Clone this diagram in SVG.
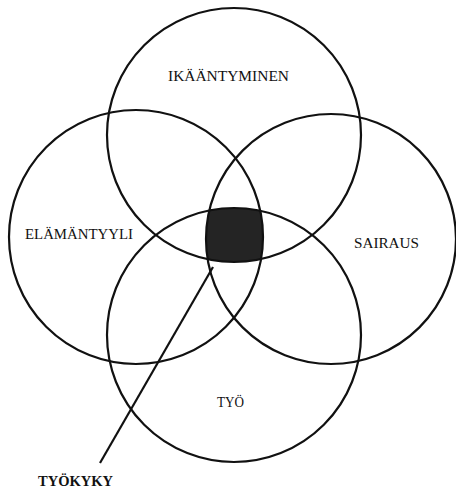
<svg xmlns="http://www.w3.org/2000/svg" width="456" height="488" viewBox="0 0 456 488">
<style>
.c{fill:none;stroke:#111;stroke-width:2.2}
.t{font-family:"Liberation Serif","DejaVu Serif",serif;font-size:15px;fill:#111}
.b{font-family:"Liberation Serif","DejaVu Serif",serif;font-size:15px;font-weight:bold;fill:#111}
.l{stroke:#111;stroke-width:2.2;fill:none}
</style>
<defs>
<clipPath id="cT"><circle cx="234" cy="135" r="127"/></clipPath>
<clipPath id="cL"><circle cx="136" cy="237" r="127"/></clipPath>
<clipPath id="cR"><circle cx="331" cy="239" r="125"/></clipPath>
</defs>
<g id="tyokyky-area">
<g clip-path="url(#cT)"><g clip-path="url(#cL)"><g clip-path="url(#cR)">
<circle cx="234" cy="335" r="127" fill="#242424"/>
</g></g></g>
</g>
<g id="ikaantyminen">
<circle class="c" cx="234" cy="135" r="127"/>
<text class="t" x="168" y="81" textLength="121" lengthAdjust="spacingAndGlyphs">IKÄÄNTYMINEN</text>
</g>
<g id="elamantyyli">
<circle class="c" cx="136" cy="237" r="127"/>
<text class="t" x="25" y="239" textLength="108" lengthAdjust="spacingAndGlyphs">ELÄMÄNTYYLI</text>
</g>
<g id="sairaus">
<circle class="c" cx="331" cy="239" r="125"/>
<text class="t" x="354" y="248" textLength="65" lengthAdjust="spacingAndGlyphs">SAIRAUS</text>
</g>
<g id="tyo">
<circle class="c" cx="234" cy="335" r="127"/>
<text class="t" x="217" y="407" textLength="27" lengthAdjust="spacingAndGlyphs">TYÖ</text>
</g>
<g id="connectors">
<line class="l" x1="213" y1="267" x2="100" y2="463"/>
</g>
<g id="tyokyky">
<text class="b" x="38" y="486" textLength="75" lengthAdjust="spacingAndGlyphs">TYÖKYKY</text>
</g>
</svg>
